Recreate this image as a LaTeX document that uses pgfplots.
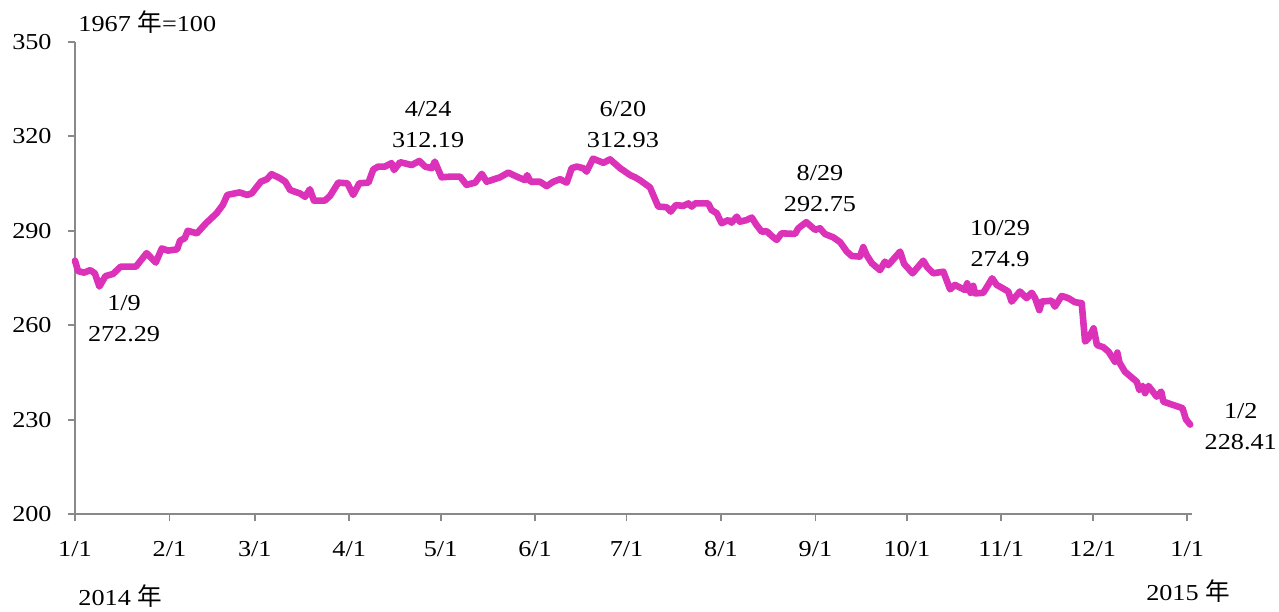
\documentclass[border=0pt]{standalone}
\usepackage{fontspec}
\setmainfont{Liberation Serif}[FakeStretch=1.15]
\newfontfamily\cjk{Noto Sans CJK TC}[Scale=1.08]
\usepackage{pgfplots}
\pgfplotsset{compat=1.18}

\definecolor{linemag}{RGB}{220,50,185}
\definecolor{axgray}{RGB}{137,137,137}

\begin{document}
\fontsize{11.4}{15.5}\selectfont
\begin{tikzpicture}
  \useasboundingbox (-37.5pt,-48.5pt) rectangle (602pt,257pt);
  \begin{axis}[scale only axis, width=558.5pt, height=236pt,
    at={(0,0)}, anchor=south west,
    xmin=0, xmax=366.6, ymin=200, ymax=350,
    axis x line=bottom, axis y line=left,
    axis line style={-, axgray, line width=0.9pt},
    tick style={axgray, line width=0.9pt},
    tick align=outside, major tick length=3.5pt,
    xtick={0,31,59,90,120,151,181,212,243,273,304,334,365},
    xticklabels={1/1,2/1,3/1,4/1,5/1,6/1,7/1,8/1,9/1,10/1,11/1,12/1,1/1},
    ytick={200,230,...,350},
    /pgf/number format/assume math mode=true,
    xticklabel style={inner sep=0pt, anchor=north, yshift=-10pt},
    yticklabel style={inner sep=0pt, anchor=east, xshift=-8pt},
    clip=false]
    \addplot[linemag, line width=3.3pt, line join=round, line cap=round] coordinates {
      (0,280.5) (1,277.2) (3,276.7) (5,277.5) (6.5,276.5) (8,272.29) (10,275.6)
      (12.5,276.3) (15,278.6) (20,278.6) (23.5,282.9) (26.5,279.9) (28.5,284.4)
      (30.5,283.7) (33.5,284.1) (34.5,286.9) (36,287.6) (37,290.0) (40,289.2)
      (43,292.4) (46.5,295.6) (48.5,298.2) (50,301.4) (54,302.2) (56.5,301.4)
      (58,301.9) (61,305.6) (63,306.4) (64.5,308.0) (67.3,306.7) (69,305.6)
      (70.6,303.0) (72.2,302.4) (73.8,301.9) (75.5,300.8) (77.1,303.2) (78.4,299.6)
      (82,299.6) (83.7,301.1) (86.4,305.3) (89.4,305.1) (91.3,301.4) (93.3,305.1)
      (96.3,305.3) (97.9,309.5) (99.5,310.4) (101.7,310.4) (103.9,311.5)
      (104.7,309.3) (106.7,311.8) (110.5,310.9) (113,312.19) (114.9,310.4)
      (117.1,309.9) (118.1,312.0) (120.3,307.0) (123,307.2) (126.4,307.2)
      (128.5,304.6) (131.3,305.3) (133.5,308.1) (135.1,305.6) (139.5,307.0)
      (142.2,308.5) (145,307.2) (147.7,306.1) (148.4,307.7) (149.5,305.6)
      (152.6,305.6) (154.8,304.2) (157,305.6) (159.2,306.4) (161.4,305.3)
      (163,309.9) (164.7,310.4) (166.8,309.9) (167.9,308.8) (170,312.93)
      (173.4,311.6) (175.6,312.7) (178.9,309.9) (182.2,307.7) (183.8,307.0)
      (185.4,306.1) (188.7,303.8) (191.4,297.7) (194.2,297.5) (195.5,296.1)
      (197.2,298.2) (199.6,297.9) (201.3,298.7) (202.4,297.7) (203.5,298.7)
      (207.8,298.7) (208.9,296.6) (210.6,295.6) (212.2,292.4) (214.4,293.4)
      (215.5,292.6) (217.2,294.5) (218.2,292.9) (220.4,293.4) (222.1,294.2)
      (223.7,291.8) (225.4,289.7) (227,289.9) (228.6,288.4) (230.3,287.1)
      (231.9,289.2) (236.3,289.0) (237.4,290.8) (240,292.75) (242.9,290.3)
      (244.5,290.8) (246.1,289.0) (248.9,287.9) (251.1,286.4) (253.3,283.4)
      (254.9,282.0) (257.6,281.8) (258.7,284.8) (259.8,282.3) (261.5,279.7)
      (264.2,277.5) (265.8,280.2) (266.9,279.1) (270.8,283.4) (272.1,279.5)
      (274.9,276.5) (278.4,280.5) (279.7,278.4) (281.7,276.5) (285,277.0)
      (287.2,271.4) (288.8,272.8) (292.1,271.2) (292.8,273.3) (293.9,270.3)
      (294.8,272.5) (295.4,270.1) (298.1,270.3) (299.7,272.8) (301,274.9)
      (302.5,272.8) (304,272.0) (306.3,270.7) (307.4,267.5) (310.1,270.7)
      (312.3,268.6) (314,270.3) (315.1,268.6) (316.5,264.8) (317.3,267.5)
      (320.5,267.8) (321.6,265.9) (323.8,269.3) (326,268.6) (328.2,267.3)
      (330.4,267.0) (331.5,254.8) (332.6,255.8) (334.3,259.0) (335.4,253.7)
      (337.5,253.0) (339.2,251.6) (341.3,248.4) (342.1,251.3) (342.8,248.1)
      (344.6,245.2) (348.5,242.0) (349.3,239.4) (350.4,240.7) (351.2,238.4)
      (352.3,240.7) (355,237.3) (356.5,238.9) (357.2,235.7) (362.7,233.9)
      (363.5,233.6) (364.6,230.1) (366,228.41)};
    % annotations
    \node[align=center] at (axis cs:16.1,262.1) {1/9\\272.29};
    \node[align=center] at (axis cs:115.9,323.8) {4/24\\312.19};
    \node[align=center] at (axis cs:179.8,323.8) {6/20\\312.93};
    \node[align=center] at (axis cs:244.5,303.4) {8/29\\292.75};
    \node[align=center] at (axis cs:303.6,285.8) {10/29\\274.9};
    \node[align=center] at (axis cs:382.6,227.8) {1/2\\228.41};
    \node[anchor=west, inner sep=0pt] at (axis cs:1,356.4) {1967 {\cjk 年}=100};
    \node[anchor=west, inner sep=0pt] at (axis cs:1,174.0) {2014 {\cjk 年}};
    \node[inner sep=0pt] at (axis cs:365.3,175.6) {2015 {\cjk 年}};
  \end{axis}
\end{tikzpicture}
\end{document}
